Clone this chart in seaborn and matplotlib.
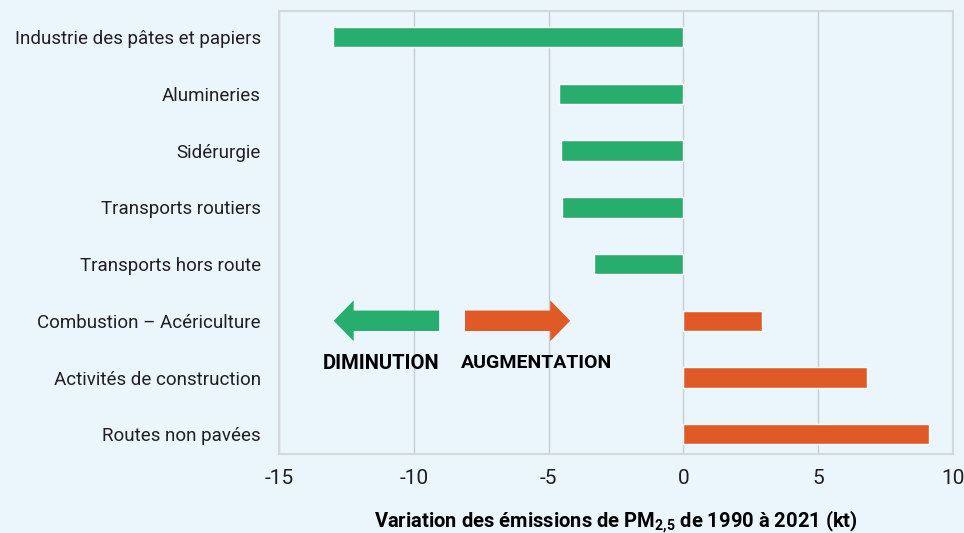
import matplotlib
matplotlib.use("Agg")
import matplotlib.pyplot as plt
from matplotlib.patches import FancyArrow
import seaborn as sns
import pandas as pd

# data (kt)
sectors = ["Industrie des pâtes et papiers", "Alumineries", "Sidérurgie",
           "Transports routiers", "Transports hors route",
           "Combustion – Acériculture", "Activités de construction",
           "Routes non pavées"]
changes = [-13.0, -4.6, -4.55, -4.5, -3.3, 2.9, 6.8, 9.1]

green = "#27AE6F"
orange = "#E05A27"
bg = "#EAF5FC"

df = pd.DataFrame({"sector": sectors, "change": changes})
df["sign"] = ["neg" if v < 0 else "pos" for v in changes]

sns.set_theme(style="white")
plt.rcParams["font.family"] = ["Roboto", "DejaVu Sans"]
plt.rcParams["mathtext.fontset"] = "custom"
plt.rcParams["mathtext.rm"] = "Roboto"
plt.rcParams["mathtext.bf"] = "Roboto:bold"

fig = plt.figure(figsize=(9.64, 5.33), dpi=100, facecolor=bg)
ax = fig.add_axes([0.2894, 0.148, 0.6992, 0.8314])
ax.set_facecolor(bg)

sns.barplot(data=df, x="change", y="sector", hue="sign",
            palette={"neg": green, "pos": orange}, orient="h",
            width=0.36, dodge=False, legend=False, ax=ax, saturation=1)

ax.set_xlim(-15, 10)
ax.set_ylim(7.35, -0.46)
ax.set_xticks([-15, -10, -5, 0, 5, 10])
ax.set_xticklabels(["-15", "-10", "-5", "0", "5", "10"])
ax.grid(axis="x", color="#C8CDD2", linewidth=1)
ax.set_axisbelow(True)
for s in ax.spines.values():
    s.set_color("#D3D8DC")
    s.set_linewidth(1.5)
ax.tick_params(axis="both", length=0, colors="#231F20")
ax.tick_params(axis="y", pad=13, labelsize=13.5)
ax.tick_params(axis="x", pad=11, labelsize=15)
ax.set_ylabel("")
ax.set_xlabel(r"Variation des émissions de PM$_{\mathbf{2{,}5}}$ de 1990 à 2021 (kt)",
              fontsize=14.5, fontweight="bold", color="black", labelpad=14)

# direction arrows
ax.add_patch(FancyArrow(-9.06, 5, -3.91, 0, width=0.36, head_width=0.72,
                        head_length=0.74, length_includes_head=True,
                        color=green, lw=0))
ax.add_patch(FancyArrow(-8.1, 5, 3.9, 0, width=0.36, head_width=0.72,
                        head_length=0.74, length_includes_head=True,
                        color=orange, lw=0))
ax.text(-11.2, 5.75, "DIMINUTION", ha="center", va="center",
        fontsize=14.5, fontweight="bold", color="black")
ax.text(-5.45, 5.75, "AUGMENTATION", ha="center", va="center",
        fontsize=14, fontweight="bold", color="black")

fig.savefig("out.png", dpi=100, facecolor=bg)
